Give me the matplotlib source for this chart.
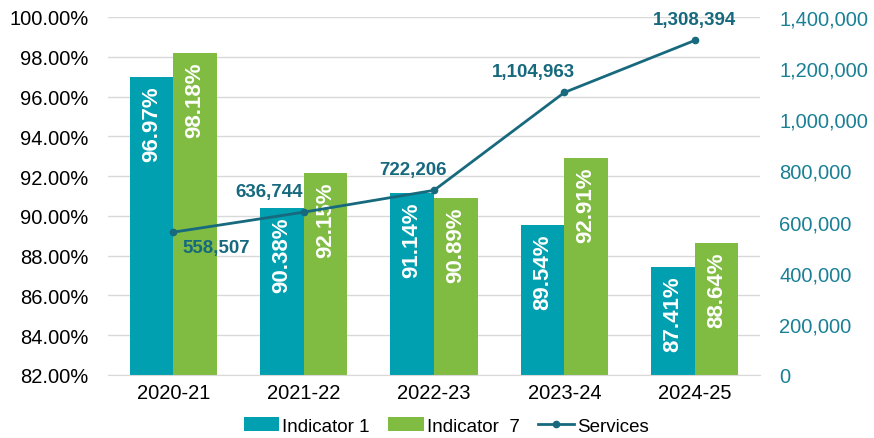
import matplotlib.pyplot as plt
import numpy as np
from matplotlib.ticker import FuncFormatter

plt.rcParams['font.family'] = ['Liberation Sans', 'DejaVu Sans']

years = ['2020-21', '2021-22', '2022-23', '2023-24', '2024-25']
indicator_1 = [96.97, 90.38, 91.14, 89.54, 87.41]
indicator_7 = [98.18, 92.15, 90.89, 92.91, 88.64]
services = [558507, 636744, 722206, 1104963, 1308394]

teal = '#00A0B0'
green = '#80BC42'
line_col = '#17697E'
axis_col = '#1A8096'

fig = plt.figure(figsize=(8.74, 4.39), dpi=100)
ax = fig.add_axes([108/874, 1 - 376/439, (760 - 108)/874, (376 - 18)/439])
ax2 = ax.twinx()

x = np.arange(len(years))
w = 0.335

b1 = ax.bar(x - w/2, indicator_1, w, color=teal, label='Indicator 1', zorder=2)
b2 = ax.bar(x + w/2, indicator_7, w, color=green, label='Indicator  7', zorder=2)

for bars, vals in [(b1, indicator_1), (b2, indicator_7)]:
    for b, v in zip(bars, vals):
        ax.annotate(f'{v:.2f}%', (b.get_x() + b.get_width()/2, v),
                    xytext=(0, -6), textcoords='offset points',
                    rotation=90, ha='center', va='top', color='white',
                    fontsize=16, fontweight='bold', zorder=3)

ax.set_ylim(82, 100)
ax.set_yticks(np.arange(82, 100.1, 2))
ax.yaxis.set_major_formatter(FuncFormatter(lambda v, p: f'{v:.2f}%'))
ax.set_xlim(-0.5, len(years) - 0.5)
ax.set_xticks(x)
ax.set_xticklabels(years)
ax.grid(axis='y', color='#D9D9D9', linewidth=1, zorder=0)
ax.set_axisbelow(True)
ax.tick_params(axis='both', length=0, labelsize=14.5, colors='#000000')
ax.tick_params(axis='y', pad=14)
ax.tick_params(axis='x', pad=6)
for s in ['top', 'right', 'left']:
    ax.spines[s].set_visible(False)
ax.spines['bottom'].set_color('#D9D9D9')

ax2.plot(x, services, color=line_col, linewidth=2, marker='o', markersize=4.5,
         label='Services', zorder=4)
ax2.set_ylim(0, 1400000)
ax2.set_yticks(np.arange(0, 1400001, 200000))
ax2.yaxis.set_major_formatter(FuncFormatter(lambda v, p: f'{int(v):,}'))
ax2.tick_params(axis='y', length=0, labelsize=14.5, colors=axis_col, pad=14)
for s in ['top', 'right', 'left', 'bottom']:
    ax2.spines[s].set_visible(False)

offsets = [(31, -11), (-25, 15), (-15, 15), (-22, 15), (0, 15)]
for xi, v, off in zip(x, services, offsets):
    ax2.annotate(f'{v:,}', (xi, v), xytext=off, textcoords='offset points',
                 ha='center', va='center', color=line_col, fontsize=13.5,
                 fontweight='bold')

h1, l1 = ax.get_legend_handles_labels()
h2, l2 = ax2.get_legend_handles_labels()
fig.legend(h1 + h2, l1 + l2, loc='center', bbox_to_anchor=(446/874, 1 - 427/439),
           ncol=3, frameon=False, fontsize=13.5, handlelength=1.9, handleheight=0.7,
           columnspacing=1.0, handletextpad=0.15)

plt.savefig('out.png', dpi=100, facecolor='white')
